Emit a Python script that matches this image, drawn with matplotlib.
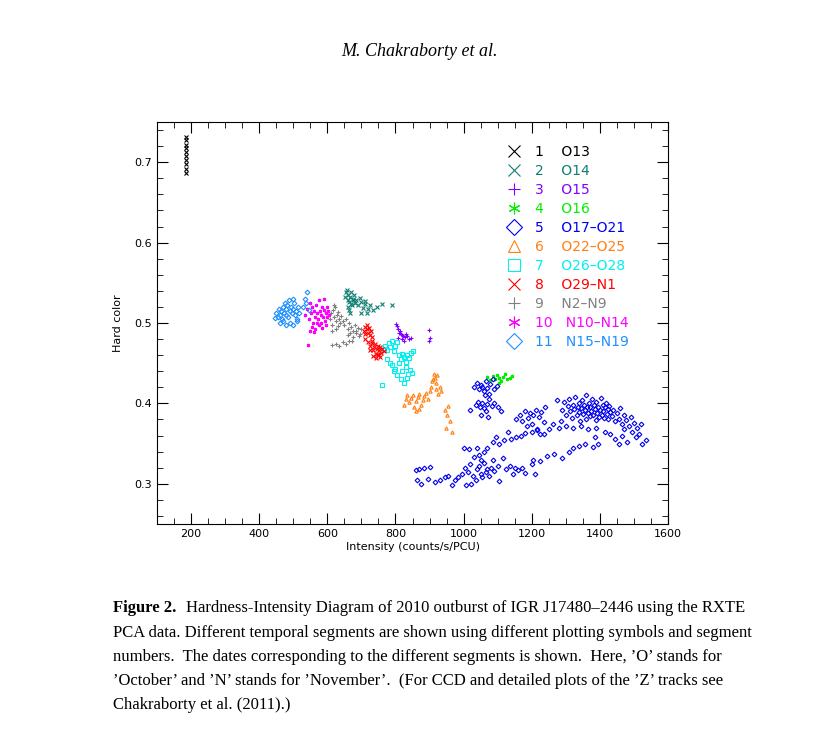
import matplotlib.pyplot as plt
from matplotlib.ticker import MultipleLocator

# segment data: (intensity, hard color)
seg1_x = [185, 186, 185, 186, 185, 186, 185, 186, 185, 186]
seg1_y = [0.686, 0.692, 0.698, 0.703, 0.708, 0.713, 0.718, 0.722, 0.727, 0.731]

seg2_x = [652, 655, 658, 660, 662, 665, 668, 670, 672, 675, 678, 680, 660, 665, 670, 685, 690, 695,
          700, 705, 710, 715, 720, 725, 735, 745, 760, 790, 668, 676, 700, 712]
seg2_y = [0.532, 0.538, 0.541, 0.529, 0.535, 0.526, 0.532, 0.538, 0.522, 0.529, 0.535, 0.525, 0.52,
          0.516, 0.524, 0.528, 0.522, 0.531, 0.526, 0.519, 0.524, 0.512, 0.518, 0.522, 0.516, 0.52,
          0.524, 0.523, 0.512, 0.53, 0.513, 0.527]

seg3_x = [803, 805, 807, 810, 812, 815, 818, 820, 822, 825, 828, 830, 835, 840, 845, 808, 898, 900, 897]
seg3_y = [0.499, 0.496, 0.492, 0.488, 0.49, 0.486, 0.485, 0.48, 0.484, 0.478, 0.482, 0.486, 0.484,
          0.48, 0.481, 0.481, 0.491, 0.481, 0.478]

seg4_x = [1070, 1078, 1085, 1092, 1098, 1105, 1110, 1115, 1122, 1128, 1135, 1142, 1105]
seg4_y = [0.433, 0.429, 0.434, 0.43, 0.435, 0.431, 0.428, 0.433, 0.436, 0.43, 0.432, 0.434, 0.425]

seg5_x = [1030, 1040, 1045, 1050, 1055, 1060, 1065, 1070, 1078, 1085, 1090, 1098, 1062, 1075,
          1020, 1035, 1042, 1048, 1055, 1060, 1068, 1075, 1082, 1090, 1100, 1110, 1050, 1065, 1072,
          1155, 1165, 1172, 1180, 1188, 1195, 1200, 1205, 1212, 1220, 1228, 1235, 1240, 1185, 1215, 1225,
          1290, 1295, 1300, 1305, 1310, 1312, 1318, 1320, 1325, 1328, 1332, 1335, 1338, 1340, 1342,
          1345, 1348, 1350, 1352, 1355, 1358, 1360, 1362, 1365, 1368, 1370, 1372, 1375, 1378, 1380,
          1382, 1385, 1388, 1390, 1392, 1395, 1398, 1400, 1403, 1405, 1408, 1410, 1413, 1415, 1418,
          1420, 1423, 1425, 1428, 1430, 1435, 1440, 1445, 1450, 1455, 1460, 1465, 1470, 1478, 1485,
          1492, 1500, 1510, 1520, 1280, 1275, 1300, 1320, 1345, 1365, 1390,
          1430, 1445, 1455, 1465, 1480, 1495, 1505, 1515, 1525, 1535, 1470, 1415, 1385,
          1000, 1015, 1045, 1070, 1085, 1105, 1120, 1138, 1155, 1168, 1180, 1200, 1215, 1235, 1250,
          1262, 1285, 1040, 1060, 1095, 1130,
          1245, 1265, 1290, 1310, 1322, 1340, 1355, 1380, 1395, 1225, 1205,
          860, 870, 885, 900, 862, 875, 895, 915, 930, 945, 955, 965, 975, 985, 995, 1005, 1012, 1020,
          1028, 1035, 1040, 1045, 1050, 1055, 1060, 1065, 1070, 1075, 1080, 1085, 1090, 1100, 1105,
          1115, 1125, 1135, 1145, 1150, 1160, 1170, 1180, 1200, 1210, 1030, 1050, 1008, 1022]
seg5_y = [0.421, 0.425, 0.418, 0.423, 0.42, 0.415, 0.428, 0.419, 0.424, 0.43, 0.418, 0.422, 0.41, 0.412,
          0.392, 0.398, 0.402, 0.396, 0.4, 0.394, 0.399, 0.405, 0.397, 0.401, 0.395, 0.39, 0.385, 0.39, 0.383,
          0.38, 0.385, 0.378, 0.39, 0.382, 0.388, 0.375, 0.386, 0.392, 0.383, 0.389, 0.377, 0.395, 0.372,
          0.368, 0.362,
          0.392, 0.402, 0.386, 0.397, 0.405, 0.39, 0.382, 0.398, 0.393, 0.408, 0.385, 0.396, 0.401, 0.389,
          0.378, 0.394, 0.404, 0.387, 0.398, 0.392, 0.381, 0.41, 0.395, 0.388, 0.4, 0.384, 0.396, 0.391,
          0.405, 0.386, 0.398, 0.393, 0.379, 0.402, 0.388, 0.396, 0.383, 0.392, 0.407, 0.386, 0.398, 0.39,
          0.382, 0.395, 0.401, 0.387, 0.393, 0.38, 0.397, 0.389, 0.384, 0.392, 0.378, 0.388, 0.381, 0.394,
          0.375, 0.386, 0.379, 0.372, 0.383, 0.376, 0.37, 0.374, 0.37, 0.404, 0.372, 0.37, 0.372, 0.368,
          0.37,
          0.362, 0.356, 0.35, 0.36, 0.352, 0.364, 0.358, 0.362, 0.35, 0.355, 0.368, 0.364, 0.358,
          0.345, 0.343, 0.336, 0.345, 0.352, 0.35, 0.354, 0.356, 0.358, 0.36, 0.363, 0.365, 0.367, 0.362,
          0.368, 0.375, 0.378, 0.344, 0.34, 0.358, 0.364,
          0.335, 0.337, 0.332, 0.34, 0.345, 0.347, 0.349, 0.346, 0.35, 0.328, 0.33,
          0.317, 0.319, 0.32, 0.321, 0.305, 0.3, 0.306, 0.302, 0.305, 0.308, 0.31, 0.298, 0.305, 0.309,
          0.312, 0.32, 0.315, 0.325, 0.31, 0.305, 0.318, 0.322, 0.312, 0.308, 0.326, 0.315, 0.318, 0.31,
          0.32, 0.33, 0.316, 0.322, 0.303, 0.332, 0.318, 0.322, 0.312, 0.32, 0.317, 0.32, 0.313, 0.325,
          0.312, 0.333, 0.33, 0.298, 0.3]

seg6_x = [825, 830, 835, 840, 845, 850, 855, 860, 865, 870, 875, 880, 885, 890, 895, 860, 870,
          900, 905, 908, 912, 915, 918, 920, 925, 930, 935, 910, 922, 945, 950, 955, 960, 948, 965]
seg6_y = [0.398, 0.405, 0.41, 0.402, 0.407, 0.41, 0.395, 0.403, 0.408, 0.412, 0.398, 0.404, 0.409,
          0.413, 0.405, 0.39, 0.393, 0.415, 0.42, 0.428, 0.436, 0.432, 0.425, 0.418, 0.412, 0.42, 0.415,
          0.43, 0.435, 0.392, 0.385, 0.397, 0.378, 0.37, 0.365]

seg7_x = [765, 770, 775, 780, 785, 790, 795, 800, 805, 810, 815, 820, 825, 830, 835, 840, 845, 850,
          790, 800, 810, 820, 830, 838, 842, 848, 775, 785, 805, 815, 795, 825, 835, 760]
seg7_y = [0.468, 0.472, 0.466, 0.475, 0.47, 0.478, 0.465, 0.472, 0.476, 0.46, 0.455, 0.462, 0.458,
          0.452, 0.46, 0.457, 0.463, 0.465, 0.448, 0.443, 0.45, 0.44, 0.445, 0.436, 0.442, 0.438, 0.455,
          0.45, 0.435, 0.43, 0.44, 0.425, 0.432, 0.423]

seg8_x = [707, 710, 712, 715, 717, 720, 722, 725, 728, 730, 712, 718, 724, 732, 735, 738, 740, 742,
          745, 748, 750, 752, 755, 758, 760, 765, 735, 742, 748, 755, 725, 730]
seg8_y = [0.49, 0.495, 0.486, 0.493, 0.498, 0.488, 0.494, 0.485, 0.49, 0.482, 0.48, 0.476, 0.472,
          0.478, 0.466, 0.47, 0.474, 0.462, 0.468, 0.472, 0.46, 0.466, 0.47, 0.463, 0.468, 0.465, 0.459,
          0.456, 0.462, 0.458, 0.466, 0.475]

seg9_x = [608, 612, 615, 618, 620, 622, 625, 628, 630, 632, 635, 638, 640, 645, 650, 655, 660, 665,
          670, 675, 680, 685, 690, 695, 700, 660, 668, 676, 684, 692, 615, 625, 620,
          615, 625, 635, 645, 655, 665, 672]
seg9_y = [0.505, 0.512, 0.498, 0.516, 0.508, 0.52, 0.502, 0.51, 0.496, 0.514, 0.505, 0.5, 0.509,
          0.503, 0.498, 0.505, 0.492, 0.5, 0.495, 0.49, 0.497, 0.488, 0.494, 0.486, 0.492, 0.485,
          0.488, 0.482, 0.49, 0.484, 0.49, 0.493, 0.522,
          0.473, 0.474, 0.472, 0.476, 0.474, 0.477, 0.478]

seg10_x = [535, 540, 545, 548, 552, 555, 558, 560, 565, 568, 570, 572, 575, 578, 580, 582, 585, 588,
           590, 592, 595, 598, 600, 603, 605, 555, 565, 575, 585, 595, 548, 560, 570, 590, 543]
seg10_y = [0.51, 0.518, 0.505, 0.525, 0.512, 0.52, 0.5, 0.515, 0.508, 0.522, 0.512, 0.505, 0.528,
           0.515, 0.5, 0.51, 0.52, 0.507, 0.516, 0.502, 0.512, 0.52, 0.508, 0.515, 0.51, 0.495, 0.492,
           0.497, 0.494, 0.498, 0.49, 0.489, 0.5, 0.53, 0.473]

seg11_x = [445, 450, 455, 458, 462, 465, 468, 470, 473, 475, 478, 480, 483, 485, 488, 490, 493, 495,
           498, 500, 503, 505, 508, 512, 515, 518, 460, 470, 480, 490, 500, 510, 530, 535, 540, 545, 538]
seg11_y = [0.506, 0.512, 0.508, 0.518, 0.51, 0.515, 0.505, 0.52, 0.512, 0.525, 0.51, 0.517, 0.522,
           0.508, 0.528, 0.515, 0.52, 0.512, 0.53, 0.518, 0.525, 0.51, 0.515, 0.505, 0.52, 0.512, 0.5,
           0.503, 0.498, 0.5, 0.497, 0.502, 0.52, 0.53, 0.538, 0.516, 0.525]

seg_labels = ['1    O13', '2    O14', '3    O15', '4    O16', '5    O17\u2013O21', '6    O22\u2013O25',
              '7    O26\u2013O28', '8    O29\u2013N1', '9    N2\u2013N9', '10   N10\u2013N14', '11   N15\u2013N19']
seg_colors = ['black', '#0f7f74', '#8000ff', '#00ee00', '#0000ee', '#ff7f10', '#00f0f0', '#ff0000',
              '#808080', '#ff00ff', '#1e8fff']
seg_markers = ['x', 'x', '+', (6, 2, 0), 'D', '^', 's', 'x', '+', (6, 2, 0), 'D']

xs = [seg1_x, seg2_x, seg3_x, seg4_x, seg5_x, seg6_x, seg7_x, seg8_x, seg9_x, seg10_x, seg11_x]
ys = [seg1_y, seg2_y, seg3_y, seg4_y, seg5_y, seg6_y, seg7_y, seg8_y, seg9_y, seg10_y, seg11_y]

fig = plt.figure(figsize=(8.38, 7.49), dpi=100)
ax = fig.add_axes([157 / 838, 1 - 524 / 749, 511 / 838, 402 / 749])

for x, y, c, m, lab in zip(xs, ys, seg_colors, seg_markers, seg_labels):
    ax.plot(x, y, ls='none', marker=m, ms=2.4, mfc='none', mec=c, mew=0.8, label=lab)

ax.set_xlim(100, 1600)
ax.set_ylim(0.25, 0.75)
ax.xaxis.set_major_locator(MultipleLocator(200))
ax.xaxis.set_minor_locator(MultipleLocator(50))
ax.yaxis.set_major_locator(MultipleLocator(0.1))
ax.yaxis.set_minor_locator(MultipleLocator(0.02))
ax.tick_params(which='both', direction='in', top=True, right=True, labelsize=8)
ax.tick_params(which='major', length=8)
ax.tick_params(which='minor', length=4)
ax.set_xlabel('Intensity (counts/s/PCU)', fontsize=8, labelpad=2)
ax.set_ylabel('Hard color', fontsize=8, labelpad=8)

leg = ax.legend(loc='upper left', bbox_to_anchor=(0.66, 0.975), frameon=False, fontsize=10,
                handletextpad=1.0, labelspacing=0.36, markerscale=3.5, handlelength=1.0)
for txt, c in zip(leg.get_texts(), seg_colors):
    txt.set_color(c)

fig.text(0.5, 1 - 52 / 749, 'M. Chakraborty et al.', ha='center', va='center',
         family='Liberation Serif', style='italic', fontsize=13)

cap = ["Hardness-Intensity Diagram of 2010 outburst of IGR J17480\u20132446 using the RXTE",
       "PCA data. Different temporal segments are shown using different plotting symbols and segment",
       "numbers.  The dates corresponding to the different segments is shown.  Here, \u2019O\u2019 stands for",
       "\u2019October\u2019 and \u2019N\u2019 stands for \u2019November\u2019.  (For CCD and detailed plots of the \u2019Z\u2019 tracks see",
       "Chakraborty et al. (2011).)"]
fig.text(113 / 838, 1 - 608 / 749, 'Figure 2.', family='Liberation Serif', weight='bold',
         fontsize=12, va='center')
fig.text(186 / 838, 1 - 608 / 749, cap[0], family='Liberation Serif', fontsize=12, va='center')
for i, line in enumerate(cap[1:]):
    fig.text(113 / 838, 1 - (633 + 24 * i) / 749, line, family='Liberation Serif',
             fontsize=12, va='center')

fig.savefig('out.png', dpi=100)
